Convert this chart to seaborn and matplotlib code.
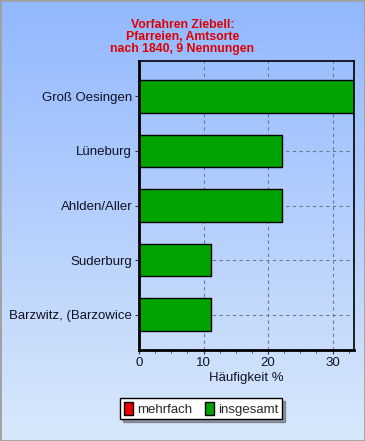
import numpy as np
import pandas as pd
import seaborn as sns
import matplotlib.pyplot as plt
from matplotlib.patches import Patch, Rectangle

# data
orte = ['Groß Oesingen', 'Lüneburg', 'Ahlden/Aller', 'Suderburg', 'Barzwitz, (Barzowice']
nennungen = [3, 2, 2, 1, 1]
gesamt = 9
haeufigkeit = [n / gesamt * 100 for n in nennungen]
xticks = [0, 10, 20, 30]
legend_labels = ['mehrfach', 'insgesamt']

df = pd.DataFrame({'Ort': orte, 'Prozent': haeufigkeit})

sns.set_style('white')
plt.rcParams['font.family'] = ['Liberation Sans', 'DejaVu Sans']

fig = plt.figure(figsize=(3.65, 4.41), dpi=100)

# background gradient over the whole figure
bg = fig.add_axes([0, 0, 1, 1], zorder=0)
grad = np.linspace(0, 1, 256).reshape(-1, 1)
top = np.array([0.57, 0.72, 1.0])
bottom = np.array([0.85, 0.91, 0.985])
img = top + grad[..., None] * (bottom - top)
bg.imshow(img, aspect='auto', extent=[0, 1, 0, 1], origin='upper')
bg.add_patch(Rectangle((0, 0), 1, 1, transform=bg.transAxes, fill=False,
                       edgecolor='#a0a0a0', linewidth=2))
bg.set_axis_off()

ax = fig.add_axes([0.381, 0.206, 0.589, 0.656], zorder=1)
ax.patch.set_alpha(0)
sns.barplot(data=df, x='Prozent', y='Ort', orient='h', color='#00a400',
            saturation=1, edgecolor='black', linewidth=1.0, width=0.6, ax=ax)

ax.set_xlim(0, 100 / 3)
ax.set_ylim(4.65, -0.65)
ax.set_xticks(xticks)
ax.set_xticks(np.arange(0, 34, 2.5), minor=True)
ax.grid(True, axis='both', linestyle=(0, (3, 3)), color='#6a7a90', linewidth=0.8)
ax.set_axisbelow(True)
for s in ax.spines.values():
    s.set_color('black')
    s.set_linewidth(1.2)
ax.spines['left'].set_linewidth(2)
ax.spines['bottom'].set_linewidth(2)
ax.tick_params(axis='both', which='major', length=3, width=0.8, color='#333333',
               labelsize=9.5, labelcolor='#111122', bottom=True, left=True, pad=2)
ax.tick_params(axis='x', which='minor', length=2, width=0.6, color='#333333', bottom=True)
ax.set_xlabel('Häufigkeit %', fontsize=9.5, color='#111122', labelpad=2)
ax.set_ylabel('')

fig.text(0.5, 0.958, 'Vorfahren Ziebell:\nPfarreien, Amtsorte\nnach 1840, 9 Nennungen',
         ha='center', va='top', color='#dd0000', fontsize=8.8, fontweight='bold',
         linespacing=1.05)

handles = [Patch(facecolor='#ee0000', edgecolor='black', label=legend_labels[0]),
           Patch(facecolor='#00a400', edgecolor='black', label=legend_labels[1])]
leg = fig.legend(handles=handles, loc='center', bbox_to_anchor=(0.551, 0.073), ncol=2,
                 fontsize=9.5, frameon=True, fancybox=False, shadow=True,
                 handlelength=0.7, handleheight=1.2, handletextpad=0.3,
                 columnspacing=1.0, borderpad=0.25, borderaxespad=0)
leg.get_frame().set_edgecolor('black')
leg.get_frame().set_linewidth(1)
leg.get_frame().set_facecolor('white')
leg.set_zorder(3)

fig.savefig('out.png', dpi=100)
